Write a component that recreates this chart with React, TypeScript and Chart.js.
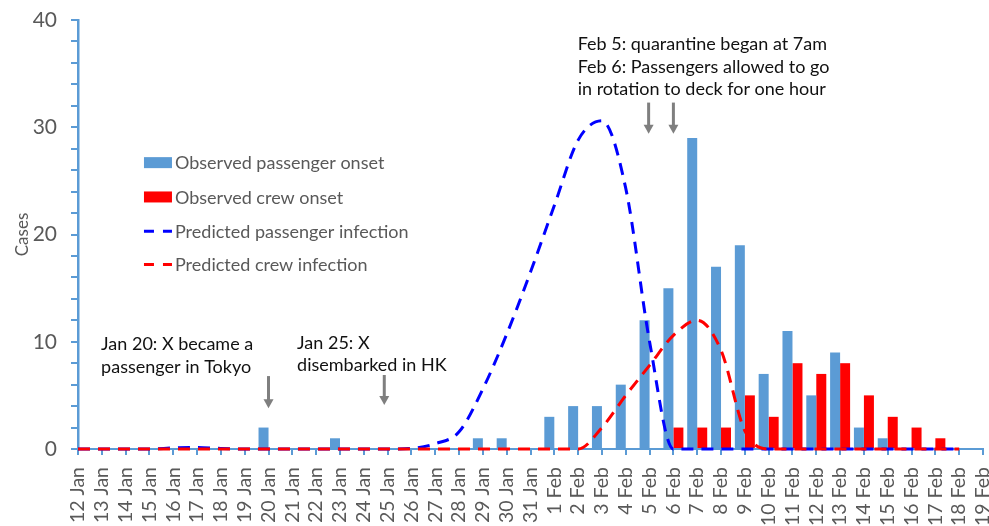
import React, { useEffect, useRef } from 'react';
import { Chart, registerables } from 'chart.js';

Chart.register(...registerables);

const categories = [
  '12 Jan', '13 Jan', '14 Jan', '15 Jan', '16 Jan', '17 Jan', '18 Jan', '19 Jan', '20 Jan', '21 Jan',
  '22 Jan', '23 Jan', '24 Jan', '25 Jan', '26 Jan', '27 Jan', '28 Jan', '29 Jan', '30 Jan', '31 Jan',
  '1 Feb', '2 Feb', '3 Feb', '4 Feb', '5 Feb', '6 Feb', '7 Feb', '8 Feb', '9 Feb', '10 Feb',
  '11 Feb', '12 Feb', '13 Feb', '14 Feb', '15 Feb', '16 Feb', '17 Feb', '18 Feb', '19 Feb',
];

const passengerOnset = [
  0, 0, 0, 0, 0, 0, 0, 0, 2, 0,
  0, 1, 0, 0, 0, 0, 0, 1, 1, 0,
  3, 4, 4, 6, 12, 15, 29, 17, 19, 7,
  11, 5, 9, 2, 1, 0, 0, 0, 0,
];

const crewOnset = [
  0, 0, 0, 0, 0, 0, 0, 0, 0, 0,
  0, 0, 0, 0, 0, 0, 0, 0, 0, 0,
  0, 0, 0, 0, 0, 2, 2, 2, 5, 3,
  8, 7, 8, 5, 3, 2, 1, 0, 0,
];

const predictedPassenger = [
  0, 0, 0, 0, 0.1, 0.15, 0.05, 0, 0, 0,
  0, 0, 0, 0, 0.05, 0.5, 1.6, 5.6, 10.7, 16.5,
  22.7, 28.8, 30.6, 24.3, 10, 0, 0, 0, 0, 0,
  0, 0, 0, 0, 0, 0, 0, 0, null,
];

const predictedCrew = [
  0, 0, 0, 0, 0, 0, 0, 0, 0, 0,
  0, 0, 0, 0, 0, 0, 0, 0, 0, 0,
  0, 0, 2.0, 5.0, 7.8, 10.6, 12.0, 9.2, 1.7, 0,
  0, 0, 0, 0, 0, 0, 0, 0, null,
];

const seriesNames = [
  'Observed passenger onset',
  'Observed crew onset',
  'Predicted passenger infection',
  'Predicted crew infection',
];

const yMajorTicks = [0, 10, 20, 30, 40];

// annotations in data coordinates: x = category index, y = value of first baseline
const notes = [
  { x: 0.97, y: 9.23, lines: ['Jan 20: X became a', 'passenger in Tokyo'] },
  { x: 9.2, y: 9.37, lines: ['Jan 25: X', 'disembarked in HK'] },
  { x: 20.98, y: 37.2, lines: ['Feb 5: quarantine began at 7am', 'Feb 6: Passengers allowed to go', 'in rotation to deck for one hour'] },
];
const arrows = [
  { x: 8, from: 6.8, to: 3.8 },
  { x: 12.86, from: 6.9, to: 4.1 },
  { x: 23.96, from: 32.3, to: 29.4 },
  { x: 25, from: 32.3, to: 29.4 },
];
const legendAnchor = { x: 2.77, y: [26.7, 23.5, 20.3, 17.2] };

const BLUE_BAR = '#5B9BD5';
const RED = '#FF0000';
const BLUE_LINE = '#0000FF';
const GREY_TEXT = '#595959';
const FONT = 'Lato, "Open Sans", sans-serif';

const overlayPlugin = {
  id: 'overlay',
  afterDraw(chart: any) {
    const { ctx } = chart;
    const xs = chart.scales.x;
    const ys = chart.scales.y;
    ctx.save();
    // annotation texts
    ctx.font = `18px ${FONT}`;
    ctx.fillStyle = '#111111';
    ctx.textAlign = 'left';
    ctx.textBaseline = 'alphabetic';
    for (const n of notes) {
      const px = xs.getPixelForValue(n.x);
      const py = ys.getPixelForValue(n.y);
      n.lines.forEach((t, i) => ctx.fillText(t, px, py + i * 22.7));
    }
    // arrows
    ctx.fillStyle = '#7F7F7F';
    ctx.strokeStyle = '#7F7F7F';
    for (const a of arrows) {
      const px = xs.getPixelForValue(a.x);
      const y1 = ys.getPixelForValue(a.from);
      const y2 = ys.getPixelForValue(a.to);
      ctx.lineWidth = 3;
      ctx.beginPath();
      ctx.moveTo(px, y1);
      ctx.lineTo(px, y2 - 7);
      ctx.stroke();
      ctx.beginPath();
      ctx.moveTo(px - 5, y2 - 9);
      ctx.lineTo(px + 5, y2 - 9);
      ctx.lineTo(px, y2);
      ctx.closePath();
      ctx.fill();
    }
    // legend
    const lx = xs.getPixelForValue(legendAnchor.x);
    ctx.font = `18px ${FONT}`;
    ctx.textBaseline = 'middle';
    const colors = [BLUE_BAR, RED, BLUE_LINE, RED];
    seriesNames.forEach((name, i) => {
      const cy = ys.getPixelForValue(legendAnchor.y[i]);
      if (i < 2) {
        ctx.fillStyle = colors[i];
        ctx.fillRect(lx, cy - 5.5, 28, 11);
      } else {
        ctx.strokeStyle = colors[i];
        ctx.lineWidth = 3;
        ctx.beginPath();
        ctx.moveTo(lx, cy);
        ctx.lineTo(lx + 10, cy);
        ctx.moveTo(lx + 19, cy);
        ctx.lineTo(lx + 28, cy);
        ctx.stroke();
      }
      ctx.fillStyle = GREY_TEXT;
      ctx.fillText(name, lx + 31, cy + 1);
    });
    ctx.restore();
  },
};

export default function App() {
  const ref = useRef<HTMLCanvasElement>(null);

  useEffect(() => {
    if (!ref.current) return;
    const chart = new Chart(ref.current, {
      type: 'bar',
      data: {
        labels: categories,
        datasets: [
          {
            type: 'line',
            label: seriesNames[3],
            data: predictedCrew,
            borderColor: RED,
            borderWidth: 3,
            borderDash: [12, 8],
            pointRadius: 0,
            tension: 0.4,
            cubicInterpolationMode: 'monotone',
            clip: false,
            order: 0,
          } as any,
          {
            type: 'line',
            label: seriesNames[2],
            data: predictedPassenger,
            borderColor: BLUE_LINE,
            borderWidth: 3,
            borderDash: [12, 8],
            pointRadius: 0,
            tension: 0.4,
            cubicInterpolationMode: 'monotone',
            clip: false,
            order: 1,
          } as any,
          {
            label: seriesNames[0],
            data: passengerOnset,
            backgroundColor: BLUE_BAR,
            borderWidth: 0,
            order: 2,
          },
          {
            label: seriesNames[1],
            data: crewOnset,
            backgroundColor: RED,
            borderWidth: 0,
            order: 3,
          },
        ],
      },
      options: {
        responsive: false,
        animation: false,
        events: [],
        layout: { padding: { top: 20, left: 0, right: 0, bottom: 0 } },
        datasets: {
          bar: { categoryPercentage: 0.84, barPercentage: 1 },
        },
        plugins: {
          legend: { display: false },
          tooltip: { enabled: false },
        },
        scales: {
          x: {
            offset: false,
            grid: {
              offset: false,
              drawOnChartArea: false,
              drawTicks: true,
              tickLength: 6,
              color: BLUE_BAR,
              lineWidth: 2,
            },
            border: { color: BLUE_BAR, width: 2 },
            ticks: {
              autoSkip: false,
              maxRotation: 90,
              minRotation: 90,
              padding: 12,
              color: GREY_TEXT,
              font: { family: FONT, size: 19.5 },
            },
            afterFit: (s: any) => {
              s.height = 77;
              s.paddingRight = 6;
              s.paddingLeft = 0;
            },
          },
          y: {
            min: 0,
            max: 40,
            grid: {
              drawOnChartArea: false,
              drawTicks: true,
              tickLength: 7,
              color: BLUE_BAR,
              lineWidth: 2,
            },
            border: { color: BLUE_BAR, width: 2.5 },
            ticks: {
              stepSize: 2,
              autoSkip: false,
              padding: 14,
              color: GREY_TEXT,
              font: { family: FONT, size: 21 },
              callback: (v: any) => (yMajorTicks.includes(Number(v)) ? String(v) : ''),
            },
            title: {
              display: true,
              text: 'Cases',
              color: GREY_TEXT,
              font: { family: FONT, size: 17 },
              padding: { top: 12, bottom: 0 },
            },
            afterFit: (s: any) => {
              s.width = 78;
              s.paddingTop = 0;
              s.paddingBottom = 0;
            },
          },
        },
      },
      plugins: [overlayPlugin],
    });
    return () => chart.destroy();
  }, []);

  return (
    <div style={{ position: 'fixed', left: 0, top: 0, width: 989, height: 526, background: '#fff' }}>
      <canvas ref={ref} width={989} height={526} style={{ display: 'block', width: 989, height: 526 }} />
    </div>
  );
}
